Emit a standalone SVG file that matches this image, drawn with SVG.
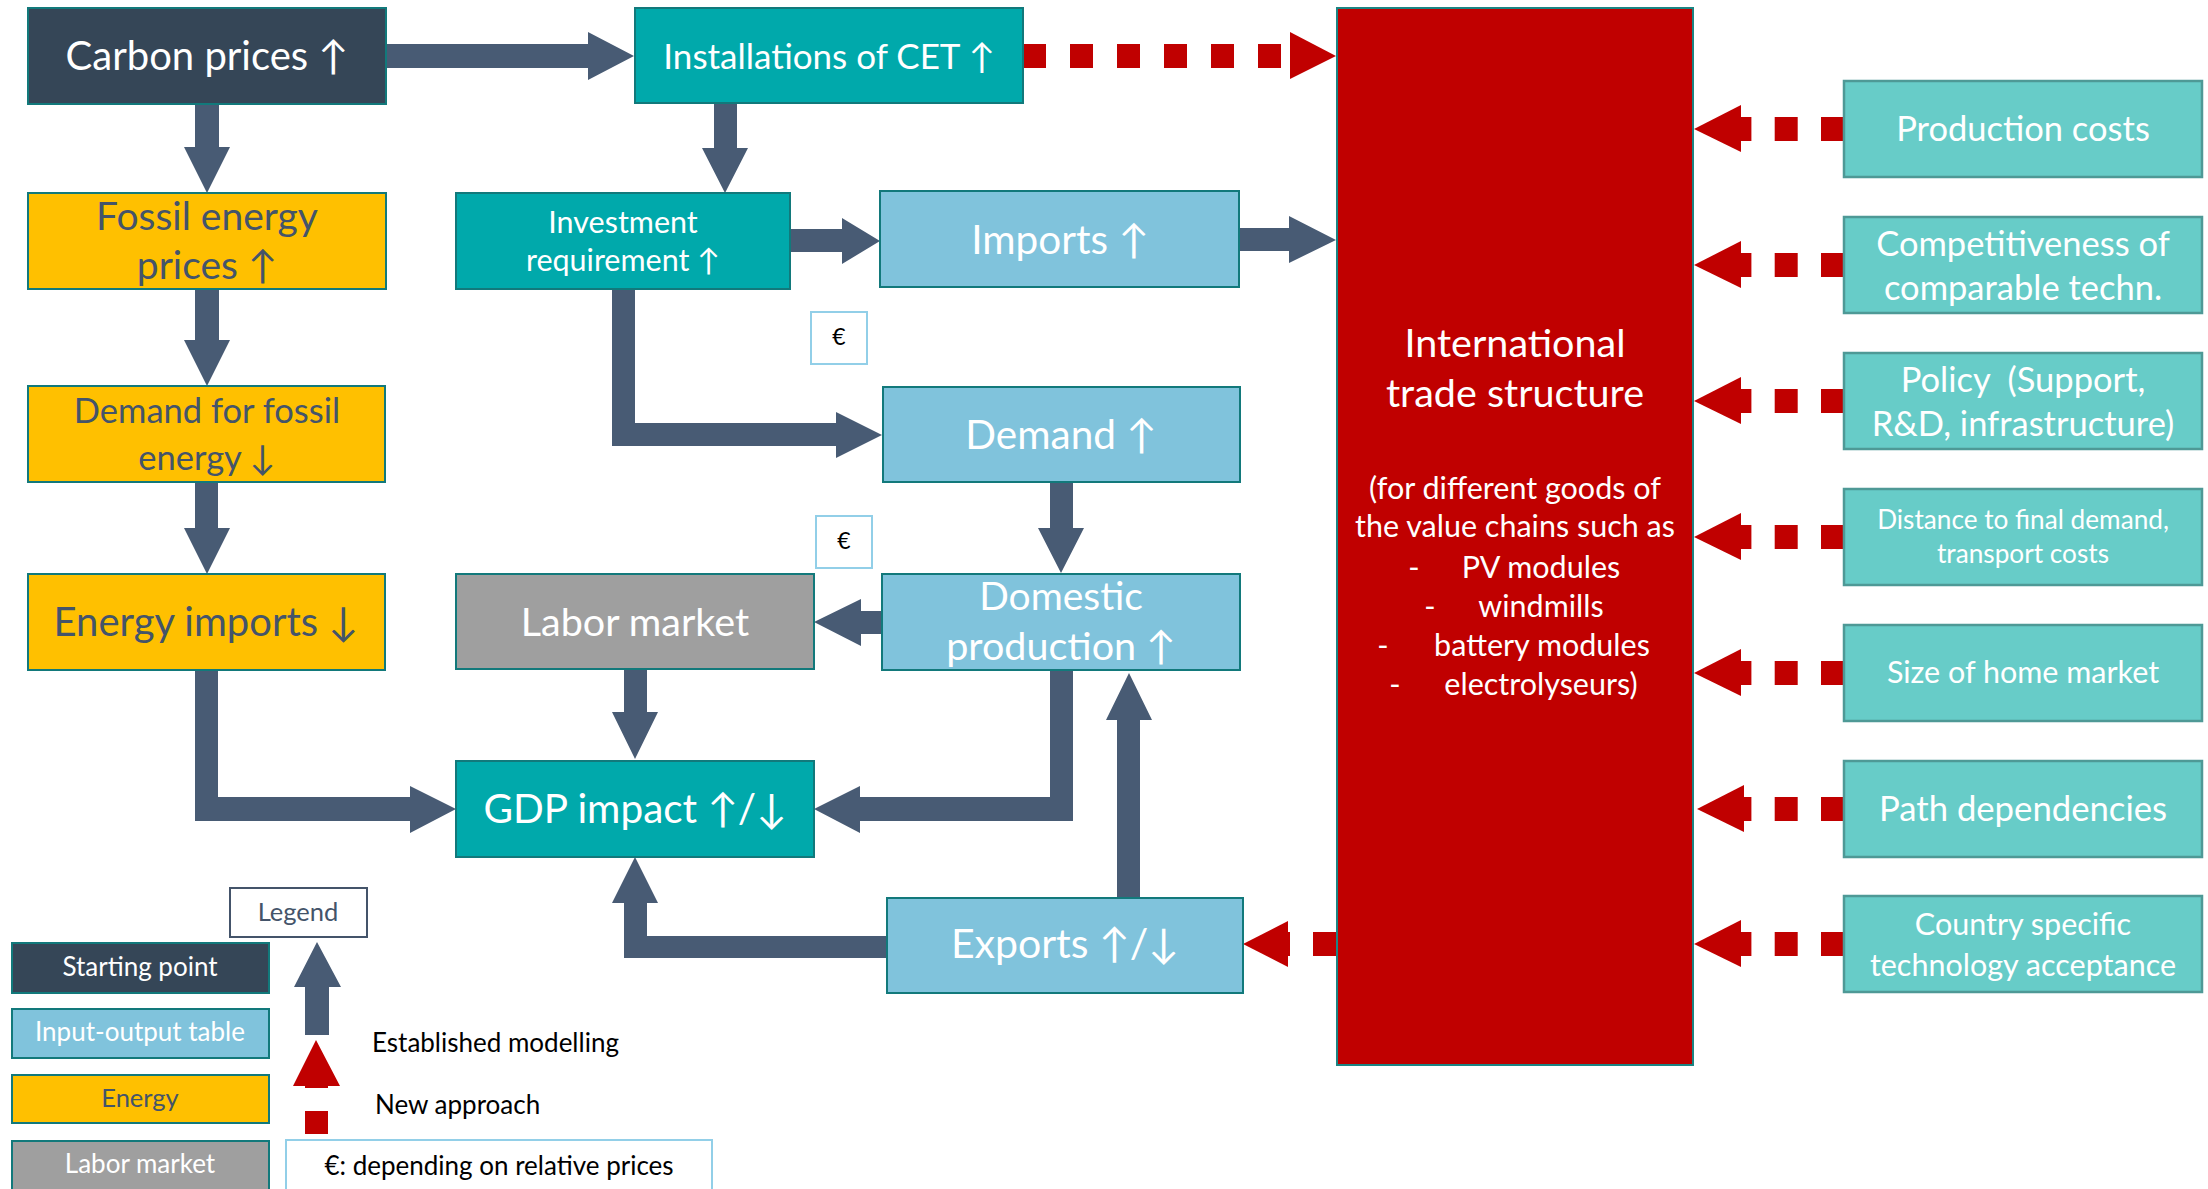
<svg xmlns="http://www.w3.org/2000/svg" width="2208" height="1189" viewBox="0 0 2208 1189">
<style>
text{font-family:Lato,"Liberation Sans",sans-serif;text-anchor:middle;dominant-baseline:central}
.w{fill:#ffffff}.g{fill:#44546a}.k{fill:#000000}
.b{stroke:#12797b;stroke-width:2}
.dark{fill:#354657}.teal{fill:#00a9ab}.lb{fill:#80c3dc}.yel{fill:#ffc000}.gray{fill:#9f9f9f}
.side{fill:#67ccc8;stroke:#4e9996;stroke-width:2.5}
.ar{fill:#485b74}
.rd{fill:#c00000}
.dl{stroke:#c00000;stroke-width:24;fill:none}
.eur{fill:#ffffff;stroke:#92cfe8;stroke-width:2}
</style>
<rect width="2208" height="1189" fill="#ffffff"/>
<g id="connectors">
<polygon class="ar" points="386,44 588,44 588,32 634,56 588,80 588,68 386,68"/>
<polygon class="ar" points="195,104 219,104 219,147 230,147 207,193 184,147 195,147"/>
<polygon class="ar" points="195,290 219,290 219,340 230,340 207,386 184,340 195,340"/>
<polygon class="ar" points="195,482 218,482 218,528 230,528 207,574 184,528 195,528"/>
<polygon class="ar" points="195,670 218,670 218,797 410,797 410,786 456,809 410,833 410,821 195,821"/>
<polygon class="ar" points="714,103 737,103 737,148 748,148 725,193 702,148 714,148"/>
<polygon class="ar" points="790,229 842,229 842,218 880,241 842,264 842,252 790,252"/>
<polygon class="ar" points="1239,228 1289,228 1289,216 1336,240 1289,263 1289,251 1239,251"/>
<polygon class="ar" points="612,289 635,289 635,423 836,423 836,412 882,435 836,458 836,446 612,446"/>
<polygon class="ar" points="1050,482 1073,482 1073,528 1084,528 1061,573 1038,528 1050,528"/>
<polygon class="ar" points="882,611 861,611 861,599 814,622 861,646 861,634 882,634"/>
<polygon class="ar" points="624,669 647,669 647,712 658,712 635,759 612,712 624,712"/>
<polygon class="ar" points="1050,670 1073,670 1073,821 860,821 860,833 814,809 860,786 860,797 1050,797"/>
<polygon class="ar" points="1117,898 1140,898 1140,720 1152,720 1129,673 1106,720 1117,720"/>
<polygon class="ar" points="887,936 887,958 624,958 624,903 612,903 635,857 658,903 647,903 647,936"/>
<line class="dl" x1="1023" y1="56" x2="1290" y2="56" stroke-dasharray="23 24"/>
<polygon class="rd" points="1290,32 1336,56 1290,79"/>
<g>
<line class="dl" x1="1844" y1="129" x2="1741" y2="129" stroke-dasharray="23 23.3"/>
<polygon class="rd" points="1741,105 1694,129 1741,152"/>
<line class="dl" x1="1844" y1="265" x2="1741" y2="265" stroke-dasharray="23 23.3"/>
<polygon class="rd" points="1741,241 1694,265 1741,288"/>
<line class="dl" x1="1844" y1="401" x2="1741" y2="401" stroke-dasharray="23 23.3"/>
<polygon class="rd" points="1741,377 1694,401 1741,424"/>
<line class="dl" x1="1844" y1="537" x2="1741" y2="537" stroke-dasharray="23 23.3"/>
<polygon class="rd" points="1741,513 1694,537 1741,560"/>
<line class="dl" x1="1844" y1="673" x2="1741" y2="673" stroke-dasharray="23 23.3"/>
<polygon class="rd" points="1741,649 1694,673 1741,696"/>
<line class="dl" x1="1844" y1="809" x2="1744" y2="809" stroke-dasharray="23 23.3"/>
<polygon class="rd" points="1744,785 1697,809 1744,832"/>
<line class="dl" x1="1844" y1="944" x2="1741" y2="944" stroke-dasharray="23 23.3"/>
<polygon class="rd" points="1741,920 1694,944 1741,967"/>
</g>
<line class="dl" x1="1336" y1="944" x2="1288" y2="944" stroke-dasharray="23 23"/>
<polygon class="rd" points="1288,921 1243,944 1288,967"/>
</g>
<g id="carbon"><rect class="dark b" x="28" y="8" width="358" height="96"/><text class="w" x="207" y="55" font-size="40">Carbon prices ↑</text></g>
<g id="installations"><rect class="teal b" x="635" y="8" width="388" height="95"/><text class="w" x="829" y="54.5" font-size="35">Installations of CET ↑</text></g>
<g id="fossil-prices"><rect class="yel b" x="28" y="193" width="358" height="96"/><text class="g" x="207" y="215" font-size="39">Fossil energy</text><text class="g" x="207" y="264" font-size="39">prices ↑</text></g>
<g id="investment"><rect class="teal b" x="456" y="193" width="334" height="96"/><text class="w" x="623" y="221" font-size="30.5">Investment</text><text class="w" x="623" y="259" font-size="30.5">requirement ↑</text></g>
<g id="imports"><rect class="lb b" x="880" y="191" width="359" height="96"/><text class="w" x="1060" y="238" font-size="40.5">Imports ↑</text></g>
<g id="eur1"><rect class="eur" x="811" y="312" width="56" height="52"/><text class="k" x="839" y="336" font-size="23">€</text></g>
<g id="demand-fossil"><rect class="yel b" x="28" y="386" width="357" height="96"/><text class="g" x="207" y="409" font-size="34.5">Demand for fossil</text><text class="g" x="207" y="456" font-size="34.5">energy ↓</text></g>
<g id="demand"><rect class="lb b" x="883" y="387" width="357" height="95"/><text class="w" x="1061" y="433" font-size="40.5">Demand ↑</text></g>
<g id="eur2"><rect class="eur" x="816" y="516" width="56" height="52"/><text class="k" x="844" y="540" font-size="23">€</text></g>
<g id="energy-imports"><rect class="yel b" x="28" y="574" width="357" height="96"/><text class="g" x="206" y="621" font-size="40">Energy imports ↓</text></g>
<g id="labor"><rect class="gray b" x="456" y="574" width="358" height="95"/><text class="w" x="635" y="620" font-size="39.5">Labor market</text></g>
<g id="domestic"><rect class="lb b" x="882" y="574" width="358" height="96"/><text class="w" x="1061" y="595" font-size="39">Domestic</text><text class="w" x="1061" y="644" font-size="39.5">production ↑</text></g>
<g id="gdp"><rect class="teal b" x="456" y="761" width="358" height="96"/><text class="w" x="635" y="807" font-size="40.5">GDP impact ↑/↓</text></g>
<g id="exports"><rect class="lb b" x="887" y="898" width="356" height="95"/><text class="w" x="1065" y="942" font-size="41">Exports ↑/↓</text></g>
<g id="trade"><rect class="rd" x="1337" y="8" width="356" height="1057" stroke="#1b8483" stroke-width="2"/>
<text class="w" x="1515" y="341" font-size="39.5">International</text>
<text class="w" x="1515" y="391" font-size="39.5">trade structure</text>
<text class="w" x="1515" y="487" font-size="30.5">(for different goods of</text>
<text class="w" x="1515" y="525" font-size="30.5">the value chains such as</text>
<text class="w" x="1414" y="566" font-size="30.5">-</text><text class="w" x="1541" y="566" font-size="30.5">PV modules</text>
<text class="w" x="1430" y="605" font-size="30.5">-</text><text class="w" x="1541" y="605" font-size="30.5">windmills</text>
<text class="w" x="1383" y="644" font-size="30.5">-</text><text class="w" x="1542" y="644" font-size="30.5">battery modules</text>
<text class="w" x="1395" y="683" font-size="30.5">-</text><text class="w" x="1541" y="683" font-size="30.5">electrolyseurs)</text>
</g>
<g id="production-costs"><rect class="side" x="1844" y="81" width="358" height="96"/><text class="w" x="2023" y="127" font-size="34.5">Production costs</text></g>
<g id="competitiveness"><rect class="side" x="1844" y="217" width="358" height="96"/><text class="w" x="2023" y="242" font-size="34.5">Competitiveness of</text><text class="w" x="2023" y="286" font-size="34.5">comparable techn.</text></g>
<g id="policy"><rect class="side" x="1844" y="353" width="358" height="96"/><text class="w" x="2023" y="378" font-size="34.5" xml:space="preserve">Policy  (Support,</text><text class="w" x="2023" y="422" font-size="34.5">R&amp;D, infrastructure)</text></g>
<g id="distance"><rect class="side" x="1844" y="489" width="358" height="96"/><text class="w" x="2023" y="519" font-size="26.2">Distance to final demand,</text><text class="w" x="2023" y="553" font-size="26.2">transport costs</text></g>
<g id="home-market"><rect class="side" x="1844" y="625" width="358" height="96"/><text class="w" x="2023" y="671" font-size="30.5">Size of home market</text></g>
<g id="path"><rect class="side" x="1844" y="761" width="358" height="96"/><text class="w" x="2023" y="807" font-size="34.7">Path dependencies</text></g>
<g id="country"><rect class="side" x="1844" y="896" width="358" height="96"/><text class="w" x="2023" y="923" font-size="30.5">Country specific</text><text class="w" x="2023" y="964" font-size="30.5">technology acceptance</text></g>
<g id="legend">
<rect x="230" y="888" width="137" height="49" fill="#ffffff" stroke="#44546a" stroke-width="2"/><text class="g" x="298" y="911" font-size="25.5">Legend</text>
<rect class="dark b" x="12" y="943" width="257" height="50"/><text class="w" x="140" y="966" font-size="26">Starting point</text>
<rect class="lb b" x="12" y="1009" width="257" height="49"/><text class="w" x="140" y="1031" font-size="26">Input-output table</text>
<rect class="yel b" x="12" y="1075" width="257" height="48"/><text class="g" x="140" y="1097" font-size="25.5">Energy</text>
<rect class="gray b" x="12" y="1141" width="257" height="50"/><text class="w" x="140" y="1163" font-size="26">Labor market</text>
<polygon class="ar" points="305,1035 329,1035 329,987 341,987 317,942 294,987 305,987"/>
<polygon class="rd" points="316,1040 340,1086 328,1086 328,1088 305,1088 305,1086 293,1086"/>
<rect class="rd" x="305" y="1111" width="23" height="23"/>
<text class="k" x="372" y="1042" font-size="26" style="text-anchor:start">Established modelling</text>
<text class="k" x="375" y="1104" font-size="26" style="text-anchor:start">New approach</text>
<rect x="286" y="1140" width="426" height="60" fill="#ffffff" stroke="#92cfe8" stroke-width="2"/><text class="k" x="499" y="1165" font-size="26">€: depending on relative prices</text>
</g>
</svg>
